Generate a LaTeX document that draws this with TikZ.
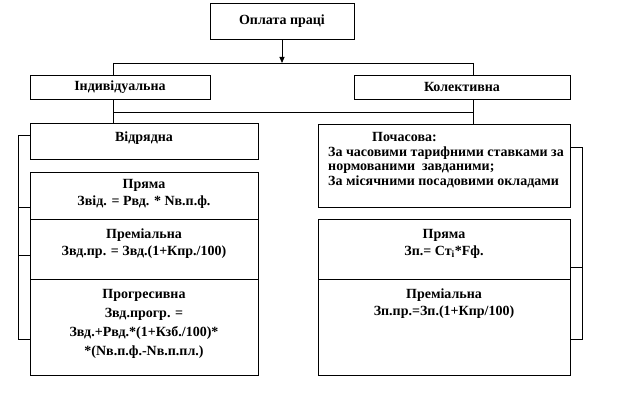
\documentclass[tikz,border=0pt]{standalone}
\usepackage{fontspec}
\setmainfont{Liberation Serif}
\usetikzlibrary{arrows.meta}
\begin{document}
\begin{tikzpicture}[x=1pt,y=-1pt,
  box/.style={draw=black,line width=0.8pt,rectangle,inner sep=0pt},
  lbl/.style={font=\fontsize{14}{17}\selectfont\bfseries,align=center,inner sep=0pt},
  wire/.style={line width=0.8pt,draw=black}]
\useasboundingbox (0,0) rectangle (619,412);
% boxes
\node[box,minimum width=144pt,minimum height=36pt] (top) at (282,21) {};
\node[box,minimum width=180pt,minimum height=24pt] (ind) at (120,87) {};
\node[box,minimum width=216pt,minimum height=24pt] (kol) at (462,87) {};
\node[box,minimum width=228pt,minimum height=36pt] (vid) at (144,141) {};
\node[box,minimum width=228pt,minimum height=47pt] (prL) at (144,195.5) {};
\node[box,minimum width=228pt,minimum height=60pt] (pmL) at (144,249) {};
\node[box,minimum width=228pt,minimum height=96pt] (pgL) at (144,327) {};
\node[box,minimum width=252pt,minimum height=83pt] (poch) at (444,165.5) {};
\node[box,minimum width=252pt,minimum height=60pt] (prR) at (444,249) {};
\node[box,minimum width=252pt,minimum height=96pt] (pmR) at (444,327) {};
% texts
\node[lbl] (tTop) at (282,21) {Оплата праці};
\node[lbl] (tInd) at (120,87) {Індивідуальна};
\node[lbl] (tKol) at (462,87) {Колективна};
\node[lbl] (tVid) at (144,138) {Відрядна};
\node[lbl] (tPrL) at (144,193.5) {Пряма\\Звід. = Рвд. * Nв.п.ф.};
\node[lbl] (tPmL) at (144,244) {Преміальна\\Звд.пр. = Звд.(1+Кпр./100)};
\node[lbl,font=\fontsize{14}{19}\selectfont\bfseries] (tPgL) at (144,323.5)
  {Прогресивна\\Звд.прогр. =\\Звд.+Рвд.*(1+Кзб./100)*\\*(Nв.п.ф.-Nв.п.пл.)};
\node[lbl,align=left,anchor=west,font=\fontsize{14}{14.7}\selectfont\bfseries] (tPoch) at (328,160)
  {\hspace*{44pt}Почасова:\\За часовими тарифними ставками за\\нормованими\ \ завданими;\\За місячними посадовими окладами};
\node[lbl] (tPrR) at (444,244) {Пряма\\Зп.= Ст\textsubscript{і}*Fф.};
\node[lbl] (tPmR) at (444,303.5) {Преміальна\\Зп.пр.=Зп.(1+Кпр/100)};
% connector coordinates
\coordinate (j0) at (282,63);
\coordinate (bL1) at (113,63);
\coordinate (bR1) at (473,63);
\coordinate (bL2) at (113,112);
\coordinate (bR2) at (473,112);
\coordinate (lb1) at (18,135);
\coordinate (lb2) at (18,207);
\coordinate (lb3) at (18,255);
\coordinate (lb4) at (18,339);
\coordinate (rb1) at (582,147);
\coordinate (rb2) at (582,267);
\coordinate (rb3) at (582,339);
% connectors
\draw[wire,-{Triangle[length=6pt,width=5pt]}] (top.south) -- (j0);
\draw[wire] (bL1) -- (bR1);
\draw[wire] (bL1) -- (bL1 |- ind.north);
\draw[wire] (bR1) -- (bR1 |- kol.north);
\draw[wire] (bL1 |- ind.south) -- (bL1 |- vid.north);
\draw[wire] (bR1 |- kol.south) -- (bR1 |- poch.north);
\draw[wire] (bL2) -- (bR2);
\draw[wire] (lb1 -| vid.west) -- (lb1) -- (lb4) -- (lb4 -| pgL.west);
\draw[wire] (lb2) -- (lb2 -| prL.west);
\draw[wire] (lb3) -- (lb3 -| pmL.west);
\draw[wire] (rb1 -| poch.east) -- (rb1) -- (rb3) -- (rb3 -| pmR.east);
\draw[wire] (rb2) -- (rb2 -| prR.east);
\end{tikzpicture}
\end{document}
